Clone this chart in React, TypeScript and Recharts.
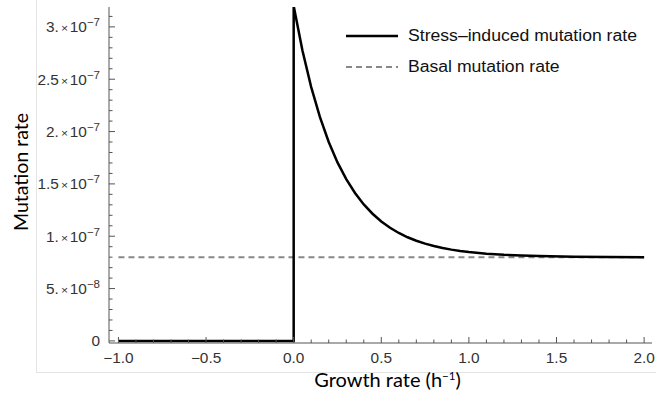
import React from 'react';
import { LineChart, Line, XAxis, YAxis, Legend, Label } from 'recharts';

// growth rate (1/h) and stress-induced mutation rate
const growthRate = [
  -1.0, 0.0, 0.0, 0.05, 0.1, 0.15, 0.2, 0.25, 0.3, 0.35, 0.4, 0.45, 0.5, 0.55, 0.6,
  0.65, 0.7, 0.75, 0.8, 0.85, 0.9, 0.95, 1.0, 1.1, 1.2, 1.3, 1.4, 1.6, 1.8, 2.0,
];
const stressRate = [
  0, 0, 3.2e-7, 2.775e-7, 2.425e-7, 2.137e-7, 1.9e-7, 1.705e-7, 1.545e-7, 1.413e-7,
  1.304e-7, 1.215e-7, 1.141e-7, 1.081e-7, 1.031e-7, 0.99e-7, 0.957e-7, 0.929e-7,
  0.906e-7, 0.887e-7, 0.872e-7, 0.859e-7, 0.849e-7, 0.833e-7, 0.822e-7, 0.815e-7,
  0.81e-7, 0.805e-7, 0.802e-7, 0.8e-7,
];
const basalGrowth = [-1.0, 2.0];
const basalRate = [8e-8, 8e-8];

const seriesNames = ['Stress\u2013induced mutation rate', 'Basal mutation rate'];

const xMajorTicks = [-1.0, -0.5, 0.0, 0.5, 1.0, 1.5, 2.0];
const xTickLabels = ['\u22121.0', '\u22120.5', '0.0', '0.5', '1.0', '1.5', '2.0'];
const xMinorTicks = [
  -0.9, -0.8, -0.7, -0.6, -0.4, -0.3, -0.2, -0.1, 0.1, 0.2, 0.3, 0.4, 0.6, 0.7, 0.8,
  0.9, 1.1, 1.2, 1.3, 1.4, 1.6, 1.7, 1.8, 1.9,
];

const yMajorTicks = [0, 5e-8, 1e-7, 1.5e-7, 2e-7, 2.5e-7, 3e-7];
const yTickMantissa = ['0', '5.', '1.', '1.5', '2.', '2.5', '3.'];
const yTickExponent = ['', '\u22128', '\u22127', '\u22127', '\u22127', '\u22127', '\u22127'];
const yMinorTicks = [
  1e-8, 2e-8, 3e-8, 4e-8, 6e-8, 7e-8, 8e-8, 9e-8, 1.1e-7, 1.2e-7, 1.3e-7, 1.4e-7,
  1.6e-7, 1.7e-7, 1.8e-7, 1.9e-7, 2.1e-7, 2.2e-7, 2.3e-7, 2.4e-7, 2.6e-7, 2.7e-7,
  2.8e-7, 2.9e-7, 3.1e-7,
];

const xTicks = [...xMajorTicks, ...xMinorTicks].sort((a, b) => a - b);
const yTicks = [...yMajorTicks, ...yMinorTicks].sort((a, b) => a - b);

const stressData = growthRate.map((g, i) => ({ g, rate: stressRate[i] }));
const basalData = basalGrowth.map((g, i) => ({ g, rate: basalRate[i] }));

const X_DOMAIN = [-1.054, 2.045];
const Y_DOMAIN = [-2e-9, 3.19e-7];

const FRAME = '#555';
const LABEL = '#333';
const TICK_FONT = '"Liberation Sans", Arial, sans-serif';
const TITLE_FONT = 'Lato, "Open Sans", sans-serif';
const STRETCH = 1.1; // the source figure is a little wider than tall

function BottomTick(props: any) {
  const { x, y, payload } = props;
  const i = xMajorTicks.indexOf(payload.value);
  const major = i >= 0;
  return (
    <g>
      <line x1={x} y1={y} x2={x} y2={y - (major ? 6 : 3.5)} stroke={FRAME} />
      {major && (
        <text
          transform={`translate(${x} ${y + 19.5}) scale(${STRETCH} 1)`}
          textAnchor="middle"
          fontSize={14}
          fill={LABEL}
          fontFamily={TICK_FONT}
        >
          {xTickLabels[i]}
        </text>
      )}
    </g>
  );
}

function TopTick(props: any) {
  const { x, y, payload } = props;
  const major = xMajorTicks.indexOf(payload.value) >= 0;
  return <line x1={x} y1={y} x2={x} y2={y + (major ? 6 : 3.5)} stroke={FRAME} />;
}

function LeftTick(props: any) {
  const { x, y, payload } = props;
  const i = yMajorTicks.indexOf(payload.value);
  const major = i >= 0;
  return (
    <g>
      <line x1={x} y1={y} x2={x + (major ? 6 : 3.5)} y2={y} stroke={FRAME} />
      {major && (
        <text
          transform={`translate(${x - 9} ${y + 5.5}) scale(${STRETCH} 1)`}
          textAnchor="end"
          fill={LABEL}
          fontFamily={TICK_FONT}
          fontSize={14}
        >
          {yTickExponent[i] === '' ? (
            yTickMantissa[i]
          ) : (
            <>
              <tspan>{yTickMantissa[i]}</tspan>
              <tspan fontSize={11} dx={2}>{'\u00d7'}</tspan>
              <tspan dx={1.5}>10</tspan>
              <tspan fontSize={10.5} dy={-6}>{yTickExponent[i]}</tspan>
            </>
          )}
        </text>
      )}
    </g>
  );
}

function RightTick(props: any) {
  const { x, y, payload } = props;
  const major = yMajorTicks.indexOf(payload.value) >= 0;
  return <line x1={x} y1={y} x2={x - (major ? 6 : 3.5)} y2={y} stroke={FRAME} />;
}

function YTitle(props: any) {
  const { viewBox } = props;
  const cx = viewBox.x + 20;
  const cy = viewBox.y + viewBox.height / 2 - 3;
  return (
    <text
      x={cx}
      y={cy}
      transform={`rotate(-90 ${cx} ${cy})`}
      textAnchor="middle"
      dominantBaseline="central"
      fontFamily={TITLE_FONT}
      fontSize={19.5}
      fill="#000"
    >
      Mutation rate
    </text>
  );
}

function XTitle(props: any) {
  const { viewBox } = props;
  const cx = viewBox.x + viewBox.width / 2 + 7;
  const by = viewBox.y + 44;
  return (
    <text x={cx} y={by} textAnchor="middle" fontFamily={TITLE_FONT} fontSize={20} fill="#000">
      <tspan>Growth rate (h</tspan>
      <tspan fontSize={11.5} dy={-7}>{'\u22121'}</tspan>
      <tspan dy={7}>)</tspan>
    </text>
  );
}

function LegendBox(props: any) {
  const items = [...(props.payload || [])].sort(
    (a: any, b: any) => seriesNames.indexOf(a.value) - seriesNames.indexOf(b.value)
  );
  return (
    <div>
      {items.map((entry: any) => (
        <div key={entry.value} style={{ display: 'flex', alignItems: 'center', height: 31 }}>
          <svg width={52} height={10}>
            <line
              x1={0}
              y1={5}
              x2={52}
              y2={5}
              stroke={entry.color}
              strokeWidth={entry.payload?.strokeWidth ?? 2}
              strokeDasharray={entry.payload?.strokeDasharray}
            />
          </svg>
          <span
            style={{
              marginLeft: 10,
              fontSize: 16,
              fontFamily: TICK_FONT,
              color: '#111',
              display: 'inline-block',
              transform: `scaleX(${STRETCH})`,
              transformOrigin: 'left center',
              whiteSpace: 'nowrap',
            }}
          >
            {entry.value}
          </span>
        </div>
      ))}
    </div>
  );
}

export default function App() {
  return (
    <div style={{ position: 'absolute', left: 0, top: 0, width: 656, height: 397 }}>
      <div
        style={{
          position: 'absolute',
          left: 36,
          top: -1,
          width: 640,
          height: 373,
          borderLeft: '1px solid #e4e4e4',
          borderBottom: '1px solid #e4e4e4',
        }}
      />
      <LineChart
        width={656}
        height={397}
        margin={{ top: 7, right: 4, left: 0, bottom: 0 }}
        style={{ fontFamily: TICK_FONT }}
      >
        <XAxis
          dataKey="g"
          type="number"
          domain={X_DOMAIN}
          allowDataOverflow
          ticks={xTicks}
          interval={0}
          tickSize={0}
          tickMargin={0}
          tickLine={false}
          tick={<BottomTick />}
          height={54}
          axisLine={{ stroke: FRAME }}
        >
          <Label content={<XTitle />} />
        </XAxis>
        <XAxis
          xAxisId="top"
          orientation="top"
          dataKey="g"
          type="number"
          domain={X_DOMAIN}
          allowDataOverflow
          ticks={xTicks}
          interval={0}
          tickSize={0}
          tickMargin={0}
          tickLine={false}
          tick={<TopTick />}
          height={0}
          axisLine={{ stroke: FRAME }}
        />
        <YAxis
          type="number"
          domain={Y_DOMAIN}
          allowDataOverflow
          ticks={yTicks}
          interval={0}
          tickSize={0}
          tickMargin={0}
          tickLine={false}
          tick={<LeftTick />}
          width={109}
          axisLine={{ stroke: FRAME }}
        >
          <Label content={<YTitle />} />
        </YAxis>
        <YAxis
          yAxisId="right"
          orientation="right"
          type="number"
          domain={Y_DOMAIN}
          allowDataOverflow
          ticks={yTicks}
          interval={0}
          tickSize={0}
          tickMargin={0}
          tickLine={false}
          tick={<RightTick />}
          width={0}
          axisLine={{ stroke: FRAME }}
        />
        <Legend
          layout="vertical"
          align="center"
          verticalAlign="middle"
          wrapperStyle={{ left: 346, top: 20, width: 300 }}
          content={<LegendBox />}
        />
        <Line
          data={basalData}
          xAxisId="top"
          yAxisId="right"
          dataKey="rate"
          name={seriesNames[1]}
          type="linear"
          stroke="#888"
          strokeWidth={2}
          strokeDasharray="6 4"
          dot={false}
          activeDot={false}
          isAnimationActive={false}
        />
        <Line
          data={stressData}
          dataKey="rate"
          name={seriesNames[0]}
          type="linear"
          stroke="#000"
          strokeWidth={2.5}
          dot={false}
          activeDot={false}
          isAnimationActive={false}
        />
      </LineChart>
    </div>
  );
}
